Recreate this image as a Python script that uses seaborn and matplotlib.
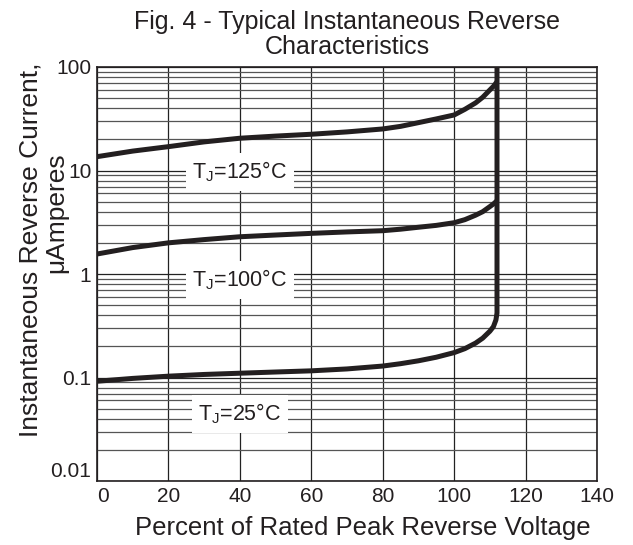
import numpy as np
import pandas as pd
import seaborn as sns
import matplotlib.pyplot as plt
from matplotlib.ticker import LogLocator, FixedLocator, NullFormatter

# values
pct = [0, 10, 20, 30, 40, 50, 60, 70, 80, 85, 90, 95, 100, 103, 106, 108, 110, 111, 112]
i_125 = [13.6, 15.4, 17.0, 18.9, 20.5, 21.5, 22.4, 23.6, 25.2, 26.7, 29.0, 31.5, 34.4,
         39, 45, 51, 60, 65, 72]
i_100 = [1.56, 1.80, 2.00, 2.15, 2.29, 2.38, 2.47, 2.55, 2.62, 2.71, 2.83, 2.95, 3.13,
         3.35, 3.70, 4.00, 4.48, 4.75, 5.1]

# the 25 C curve carries the vertical breakdown line up to the top
pct_25 = [0, 10, 20, 30, 40, 50, 60, 70, 80, 85, 90, 95, 100, 103, 106, 108, 110, 111,
          111.7, 112, 112]
i_25 = [0.092, 0.098, 0.103, 0.107, 0.110, 0.113, 0.116, 0.121, 0.129, 0.136, 0.145,
        0.157, 0.174, 0.19, 0.215, 0.24, 0.28, 0.31, 0.36, 0.42, 100]

labels = ['T$_\\mathregular{J}$=125°C', 'T$_\\mathregular{J}$=100°C', 'T$_\\mathregular{J}$=25°C']
label_y = [9.7, 0.875, 0.0444]

x_ticks = [0, 20, 40, 60, 80, 100, 120, 140]
y_ticks = [0.01, 0.1, 1, 10, 100]
y_ticklabels = ['0.01', '0.1', '1', '10', '100']

sns.set_style('white')
plt.rcParams['font.family'] = ['Liberation Sans', 'DejaVu Sans']
plt.rcParams['mathtext.fontset'] = 'custom'
plt.rcParams['mathtext.rm'] = 'Liberation Sans'

fig = plt.figure(figsize=(6.33, 5.45), dpi=100)
ax = fig.add_axes([97 / 633, 1 - 481 / 545, 500 / 633, 414 / 545])

ink = '#231f20'
sns.lineplot(x=pct, y=i_125, ax=ax, color=ink, lw=3.6, sort=False, estimator=None)
sns.lineplot(x=pct, y=i_100, ax=ax, color=ink, lw=3.6, sort=False, estimator=None)
sns.lineplot(x=pct_25, y=i_25, ax=ax, color=ink, lw=3.6, sort=False, estimator=None)
for ln in ax.lines:
    ln.set_solid_joinstyle('round')
    ln.set_solid_capstyle('butt')

ax.set_yscale('log')
ax.set_xlim(0, 140)
ax.set_ylim(0.01, 100)
ax.xaxis.set_major_locator(FixedLocator(x_ticks))
ax.set_xticklabels([str(v) for v in x_ticks])
ax.yaxis.set_major_locator(FixedLocator(y_ticks))
ax.set_yticklabels(y_ticklabels)
ax.yaxis.set_minor_locator(LogLocator(base=10, subs=np.arange(2, 10)))
ax.yaxis.set_minor_formatter(NullFormatter())

ax.grid(True, which='major', axis='both', color='#222222', lw=0.9)
ax.grid(True, which='minor', axis='y', color='#555555', lw=0.9)
ax.tick_params(axis='both', which='both', length=0, labelsize=15, colors='#231f20', pad=4)
for s in ax.spines.values():
    s.set_color('#231f20')
    s.set_linewidth(1.2)

# nudge the first labels like in the original
ax.get_yticklabels()[0].set_va('bottom')
ax.get_xticklabels()[0].set_ha('left')

ax.set_xlabel('')
ax.set_ylabel('')

for txt, yv in zip(labels, label_y):
    ax.text(40, yv, txt, ha='center', va='center', fontsize=15.5, color='#231f20',
            bbox=dict(boxstyle='square,pad=0.3', fc='white', ec='none'), zorder=5)

fig.text(347 / 633, 1 - 22 / 545, 'Fig. 4 - Typical Instantaneous Reverse',
         ha='center', va='center', fontsize=18, color='#231f20')
fig.text(347 / 633, 1 - 47 / 545, 'Characteristics',
         ha='center', va='center', fontsize=18, color='#231f20')
fig.text(363 / 633, 1 - 528 / 545, 'Percent of Rated Peak Reverse Voltage',
         ha='center', va='center', fontsize=18.5, color='#231f20')
fig.text(31 / 633, 1 - 250 / 545, 'Instantaneous Reverse Current,', rotation=90,
         ha='center', va='center', fontsize=19, color='#231f20')
fig.text(56 / 633, 1 - 213 / 545, 'μAmperes', rotation=90,
         ha='center', va='center', fontsize=19, color='#231f20')

fig.savefig('out.png', dpi=100)
